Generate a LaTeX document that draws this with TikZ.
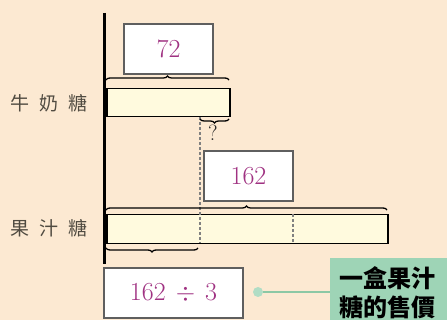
\documentclass[tikz,border=0pt]{standalone}
\usepackage{fontspec}
\newfontfamily\cjk{Noto Sans CJK TC}
\usetikzlibrary{decorations.pathreplacing}
\definecolor{bgc}{RGB}{252,233,210}
\definecolor{barc}{RGB}{255,250,222}
\definecolor{numc}{RGB}{160,50,130}
\definecolor{boxline}{RGB}{95,95,95}
\definecolor{lblc}{RGB}{80,75,65}
\definecolor{greenc}{RGB}{158,212,182}
\definecolor{greenl}{RGB}{140,200,165}
\tikzset{
  numbox/.style={draw=boxline, line width=2pt, fill=white, inner sep=0pt, font=\fontsize{26}{28}\selectfont, text=numc},
  barbox/.style={draw=black, line width=1.5pt, fill=barc},
  lbl/.style={font=\cjk\fontsize{19}{21}\selectfont, text=lblc},
  bracedown/.style={draw=black, line width=1.3pt, decorate, decoration={brace, mirror, amplitude=4pt}},
  braceup/.style={draw=black, line width=1.3pt, decorate, decoration={brace, amplitude=4pt}},
  dashline/.style={draw=gray, line width=1.3pt, dash pattern=on 3pt off 2pt},
}
\begin{document}
\begin{tikzpicture}[x=1pt,y=-1pt]
\useasboundingbox (0,0) rectangle (447,320);
\fill[bgc] (0,0) rectangle (447,320);
\begin{scope}
\clip (0,0) rectangle (447,320);
% green callout
\node[fill=greenc, minimum width=130pt, minimum height=70pt, anchor=north west, inner sep=0pt] (gbox) at (330,258) {};
\node[anchor=north west, inner sep=0pt, align=left, font=\cjk\bfseries\fontsize{24}{29}\selectfont] (gtext) at (339,266) {一盒果汁\\糖的售價};
\end{scope}
% bars
\node[barbox, minimum width=123pt, minimum height=28pt, anchor=north west, inner sep=0pt] (bar1) at (106,88) {};
\node[barbox, minimum width=281pt, minimum height=29pt, anchor=north west, inner sep=0pt] (bar2) at (106,214) {};
% dashed dividers
\coordinate (d1t) at (200,117);
\coordinate (d1b) at (200,243);
\coordinate (d2t) at (293,214);
\coordinate (d2b) at (293,243);
\draw[dashline] (d1t) -- (d1b);
\draw[dashline] (d2t) -- (d2b);
% axis
\coordinate (at) at (104,13);
\coordinate (ab) at (104,264);
\draw[line width=3pt] (at) -- (ab);
% braces
\coordinate (b1l) at (106,80);
\coordinate (b1r) at (229,80);
\draw[braceup] (b1l) -- (b1r);
\coordinate (b2l) at (200,119);
\coordinate (b2r) at (229,119);
\draw[bracedown] (b2l) -- (b2r);
\coordinate (b3l) at (106,210);
\coordinate (b3r) at (387,210);
\draw[braceup] (b3l) -- (b3r);
\coordinate (b4l) at (106,248);
\coordinate (b4r) at (198,248);
\draw[bracedown] (b4l) -- (b4r);
% number boxes
\node[numbox, minimum width=89pt, minimum height=50pt, anchor=north west] (n72) at (123,23) {72};
\node[numbox, minimum width=89pt, minimum height=50pt, anchor=north west] (n162) at (203,150) {162};
\node[numbox, minimum width=139pt, minimum height=50pt, anchor=north west] (ndiv) at (103,267) {162\hspace{10pt}$\div$\hspace{10pt}3};
\node[font=\fontsize{22}{24}\selectfont, text=black!85, inner sep=0pt] (q) at (213,133) {?};
% labels
\node[lbl] (l1) at (49,103) {牛\hspace{10pt}奶\hspace{10pt}糖};
\node[lbl] (l2) at (49,228) {果\hspace{10pt}汁\hspace{10pt}糖};
% dot and connector
\node[circle, fill=greenc!80!white, minimum size=10pt, inner sep=0pt] (dot) at (258,292) {};
\draw[greenl, line width=2pt] (dot) -- (gbox.west |- dot);
\end{tikzpicture}
\end{document}
